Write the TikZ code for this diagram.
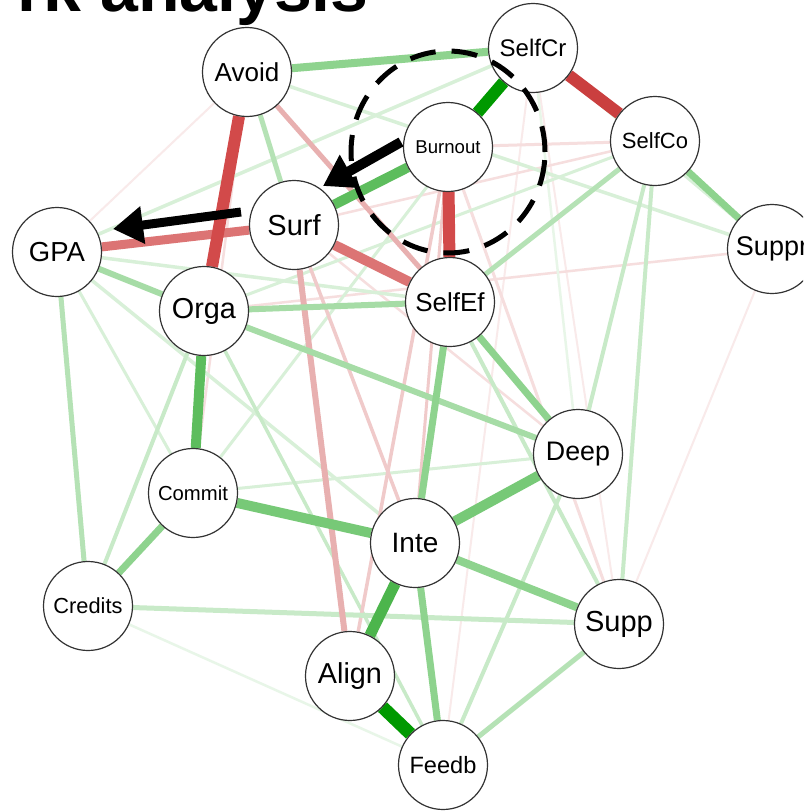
\documentclass[tikz,border=0pt]{standalone}
\usepackage{fontspec}
\setmainfont{Liberation Sans}
\usetikzlibrary{arrows.meta}
\pgfdeclarelayer{bottom}
\pgfdeclarelayer{background}
\pgfsetlayers{bottom,background,main}
\definecolor{gA}{HTML}{009900}
\definecolor{gB}{HTML}{4CB54C}
\definecolor{gC}{HTML}{5DBD5D}
\definecolor{gD}{HTML}{77C977}
\definecolor{gE}{HTML}{8ED38E}
\definecolor{gF}{HTML}{A6DCA6}
\definecolor{gG}{HTML}{B5E2B5}
\definecolor{gH}{HTML}{C8EAC8}
\definecolor{gI}{HTML}{D8F0D8}
\definecolor{gJ}{HTML}{E8F6E8}
\definecolor{rA}{HTML}{CA3F3F}
\definecolor{rB}{HTML}{D24A4A}
\definecolor{rC}{HTML}{DC7474}
\definecolor{rD}{HTML}{E8B0B0}
\definecolor{rE}{HTML}{F0CACA}
\definecolor{rF}{HTML}{F6DEDE}
\definecolor{rG}{HTML}{F9EAEA}
\definecolor{ringline}{HTML}{333333}
\begin{document}
\begin{tikzpicture}[x=1pt,y=-1pt,
  vnode/.style={circle, draw=ringline, line width=1.2pt, fill=white, minimum size=89pt, inner sep=0pt},
  ed/.style 2 args={draw=#1, line width=#2},
  bigarrow/.style={draw=black, -{Triangle[length=30pt,width=36pt]}},
  dashring/.style={draw=black, line width=5pt, dash pattern=on 26pt off 16pt},
  fs/.style={font=\fontsize{#1}{#1}\selectfont}]
\useasboundingbox (0,0) rectangle (803,811);
\clip (0,0) rectangle (803,811);
\begin{pgfonlayer}{bottom}
\fill[white] (0,0) rectangle (803,811);
\end{pgfonlayer}

\node[anchor=base east, font=\fontsize{68}{68}\selectfont\bfseries, inner sep=0pt] (title) at (369,11) {rk analysis};

\node[vnode, fs=26] (Avoid) at (247,72) {Avoid};
\node[vnode, fs=24] (SelfCr) at (533,48) {SelfCr};
\node[vnode, fs=18.6] (Burnout) at (448,147) {Burnout};
\node[vnode, fs=22] (SelfCo) at (655,141) {SelfCo};
\node[vnode, fs=29] (Surf) at (294,225) {Surf};
\node[vnode, fs=27.5] (GPA) at (57,252) {GPA};
\node[vnode, fs=27] (Suppr) at (772,249) {Suppr};
\node[vnode, fs=28.8] (Orga) at (204,311) {Orga};
\node[vnode, fs=26] (SelfEf) at (450,302) {SelfEf};
\node[vnode, fs=26.8] (Deep) at (578,454) {Deep};
\node[vnode, fs=20.3] (Commit) at (193,493) {Commit};
\node[vnode, fs=28] (Inte) at (415,543) {Inte};
\node[vnode, fs=21.8] (Credits) at (88,606) {Credits};
\node[vnode, fs=29] (Supp) at (619,624) {Supp};
\node[vnode, fs=28.8] (Align) at (350,676) {Align};
\node[vnode, fs=23.6] (Feedb) at (443,765) {Feedb};

\begin{pgfonlayer}{background}
% faint edges
\draw[ed={rG}{2}] (Avoid) -- (GPA);
\draw[ed={rG}{2}] (SelfCr) -- (Feedb);
\draw[ed={rG}{2}] (SelfCr) -- (Supp);
\draw[ed={rG}{2}] (Suppr) -- (Supp);
\draw[ed={rF}{2.5}] (Suppr) -- (Orga);
\draw[ed={rF}{2.5}] (Surf) -- (SelfCo);
\draw[ed={rF}{2.5}] (Surf) -- (Deep);
\draw[ed={rF}{3}] (Burnout) -- (SelfCo);
\draw[ed={rF}{3}] (Burnout) -- (Supp);
\draw[ed={rF}{2.5}] (Avoid) -- (Commit);
\draw[ed={gJ}{2.5}] (Credits) -- (Feedb);
\draw[ed={gJ}{2.5}] (SelfCr) -- (Deep);
\draw[ed={gI}{3}] (SelfCr) -- (Commit);
\draw[ed={gI}{3}] (Commit) -- (Deep);
\draw[ed={gI}{3}] (Orga) -- (SelfCo);
\draw[ed={gI}{3}] (SelfCr) -- (Suppr);
\draw[ed={gI}{3}] (GPA) -- (Commit);
\draw[ed={gI}{3.5}] (GPA) -- (SelfCr);
\draw[ed={gI}{3.5}] (Avoid) -- (Suppr);
\draw[ed={gI}{3.5}] (GPA) -- (SelfEf);
\draw[ed={gI}{3.5}] (GPA) -- (Inte);
\draw[ed={gH}{3.5}] (Orga) -- (Feedb);
\draw[ed={gH}{4}] (SelfEf) -- (Supp);
\draw[ed={rE}{3.5}] (Burnout) -- (Align);
\draw[ed={rE}{3}] (Burnout) -- (Inte);
\draw[ed={rE}{3.5}] (Surf) -- (Inte);
% light edges
\draw[ed={gH}{4}] (Orga) -- (Credits);
\draw[ed={gH}{4}] (Deep) -- (Feedb);
\draw[ed={gH}{4}] (SelfCo) -- (Supp);
\draw[ed={gH}{4}] (SelfCo) -- (Deep);
\draw[ed={gH}{5}] (Credits) -- (Supp);
\draw[ed={gG}{5}] (Supp) -- (Feedb);
\draw[ed={gG}{5}] (GPA) -- (Credits);
\draw[ed={gG}{5}] (SelfCo) -- (SelfEf);
\draw[ed={gG}{5}] (Avoid) -- (Surf);
\draw[ed={rD}{5}] (Avoid) -- (SelfEf);
\draw[ed={rD}{6}] (Surf) -- (Align);
% medium edges
\draw[ed={gF}{6}] (GPA) -- (Orga);
\draw[ed={gF}{6}] (Orga) -- (SelfEf);
\draw[ed={gF}{6}] (Orga) -- (Deep);
\draw[ed={gE}{7}] (SelfEf) -- (Deep);
\draw[ed={gE}{7}] (SelfCo) -- (Suppr);
\draw[ed={gE}{7}] (Commit) -- (Credits);
\draw[ed={gE}{7}] (Inte) -- (Feedb);
\draw[ed={gE}{8}] (Inte) -- (Supp);
\draw[ed={gE}{7}] (SelfEf) -- (Inte);
\draw[ed={gE}{8}] (Avoid) -- (SelfCr);
\draw[ed={rC}{9}] (Surf) -- (GPA);
\draw[ed={rC}{10}] (Surf) -- (SelfEf);
% strong edges
\draw[ed={gD}{10}] (Inte) -- (Deep);
\draw[ed={gD}{10}] (Commit) -- (Inte);
\draw[ed={gC}{10}] (Orga) -- (Commit);
\draw[ed={gC}{10}] (Burnout) -- (Surf);
\draw[ed={gB}{11}] (Inte) -- (Align);
\draw[ed={rB}{12}] (Avoid) -- (Orga);
\draw[ed={rB}{12}] (Burnout) -- (SelfEf);
\draw[ed={rA}{12}] (SelfCr) -- (SelfCo);
\draw[ed={gA}{12}] (SelfCr) -- (Burnout);
\draw[ed={gA}{13}] (Align) -- (Feedb);
\end{pgfonlayer}

\draw[dashring] (448,152) ellipse [x radius=97pt, y radius=101pt];

\coordinate (a1s) at (401,142);
\coordinate (a1e) at (323,186);
\coordinate (a2s) at (241,212);
\coordinate (a2e) at (113,229);
\draw[bigarrow, line width=10pt] (a1s) -- (a1e);
\draw[bigarrow, line width=9pt] (a2s) -- (a2e);
\end{tikzpicture}
\end{document}
